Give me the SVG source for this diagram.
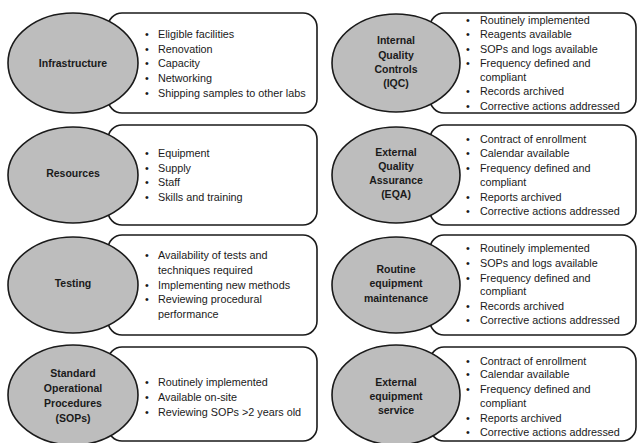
<svg xmlns="http://www.w3.org/2000/svg" width="639" height="443" viewBox="0 0 639 443">
<style>
.box{fill:#fff;stroke:#1a1a1a;stroke-width:1.6}
.ell{fill:#bdbdbd;stroke:#1a1a1a;stroke-width:1.6}
.lbl{font-family:"Liberation Sans",Arial,sans-serif;font-size:10.5px;font-weight:bold;fill:#1a1a1a;text-anchor:middle}
.it{font-family:"Liberation Sans",Arial,sans-serif;font-size:10.8px;fill:#1a1a1a}
.bl{font-family:"Liberation Sans",Arial,sans-serif;font-size:10.8px;fill:#1a1a1a;text-anchor:middle}
</style>
<rect width="639" height="443" fill="#fff"/>
<g id="connectors"></g>

<g id="infrastructure">
<rect class="box" x="108" y="13" width="209" height="100" rx="14"/>
<ellipse class="ell" cx="73" cy="63" rx="65" ry="50"/>
<text class="lbl" x="73" y="67">Infrastructure</text>
<text class="bl" x="147" y="38">•</text><text class="it" x="158" y="38">Eligible facilities</text>
<text class="bl" x="147" y="53">•</text><text class="it" x="158" y="53">Renovation</text>
<text class="bl" x="147" y="67">•</text><text class="it" x="158" y="67">Capacity</text>
<text class="bl" x="147" y="82">•</text><text class="it" x="158" y="82">Networking</text>
<text class="bl" x="147" y="97">•</text><text class="it" x="158" y="97">Shipping samples to other labs</text>
</g>

<g id="resources">
<rect class="box" x="108" y="125" width="209" height="100" rx="14"/>
<ellipse class="ell" cx="73" cy="175" rx="65" ry="48"/>
<text class="lbl" x="73" y="177">Resources</text>
<text class="bl" x="147" y="157">•</text><text class="it" x="158" y="157">Equipment</text>
<text class="bl" x="147" y="172">•</text><text class="it" x="158" y="172">Supply</text>
<text class="bl" x="147" y="186">•</text><text class="it" x="158" y="186">Staff</text>
<text class="bl" x="147" y="201">•</text><text class="it" x="158" y="201">Skills and training</text>
</g>

<g id="testing">
<rect class="box" x="108" y="235" width="209" height="100" rx="14"/>
<ellipse class="ell" cx="73" cy="285" rx="65" ry="48"/>
<text class="lbl" x="73" y="287">Testing</text>
<text class="bl" x="147" y="259">•</text><text class="it" x="158" y="259">Availability of tests and</text>
<text class="it" x="158" y="274">techniques required</text>
<text class="bl" x="147" y="289">•</text><text class="it" x="158" y="289">Implementing new methods</text>
<text class="bl" x="147" y="303">•</text><text class="it" x="158" y="303">Reviewing procedural</text>
<text class="it" x="158" y="318">performance</text>
</g>

<g id="sops">
<rect class="box" x="108" y="347" width="209" height="94" rx="14"/>
<ellipse class="ell" cx="73" cy="395" rx="65" ry="50"/>
<text class="lbl" x="73" y="377">Standard</text>
<text class="lbl" x="73" y="392">Operational</text>
<text class="lbl" x="73" y="407">Procedures</text>
<text class="lbl" x="73" y="422">(SOPs)</text>
<text class="bl" x="147" y="386">•</text><text class="it" x="158" y="386">Routinely implemented</text>
<text class="bl" x="147" y="401">•</text><text class="it" x="158" y="401">Available on-site</text>
<text class="bl" x="147" y="416">•</text><text class="it" x="158" y="416">Reviewing SOPs &gt;2 years old</text>
</g>

<g id="iqc">
<rect class="box" x="430" y="13" width="206" height="100" rx="14"/>
<ellipse class="ell" cx="396" cy="63" rx="64" ry="49"/>
<text class="lbl" x="396" y="44">Internal</text>
<text class="lbl" x="396" y="59">Quality</text>
<text class="lbl" x="396" y="73">Controls</text>
<text class="lbl" x="396" y="87">(IQC)</text>
<text class="bl" x="468" y="24">•</text><text class="it" x="480" y="24">Routinely implemented</text>
<text class="bl" x="468" y="38">•</text><text class="it" x="480" y="38">Reagents available</text>
<text class="bl" x="468" y="53">•</text><text class="it" x="480" y="53">SOPs and logs available</text>
<text class="bl" x="468" y="67">•</text><text class="it" x="480" y="67">Frequency defined and</text>
<text class="it" x="480" y="81">compliant</text>
<text class="bl" x="468" y="95">•</text><text class="it" x="480" y="95">Records archived</text>
<text class="bl" x="468" y="110">•</text><text class="it" x="480" y="110">Corrective actions addressed</text>
</g>

<g id="eqa">
<rect class="box" x="430" y="125" width="206" height="100" rx="14"/>
<ellipse class="ell" cx="396" cy="175" rx="64" ry="48"/>
<text class="lbl" x="396" y="156">External</text>
<text class="lbl" x="396" y="170">Quality</text>
<text class="lbl" x="396" y="184">Assurance</text>
<text class="lbl" x="396" y="198">(EQA)</text>
<text class="bl" x="468" y="143">•</text><text class="it" x="480" y="143">Contract of enrollment</text>
<text class="bl" x="468" y="157">•</text><text class="it" x="480" y="157">Calendar available</text>
<text class="bl" x="468" y="172">•</text><text class="it" x="480" y="172">Frequency defined and</text>
<text class="it" x="480" y="186">compliant</text>
<text class="bl" x="468" y="201">•</text><text class="it" x="480" y="201">Reports archived</text>
<text class="bl" x="468" y="215">•</text><text class="it" x="480" y="215">Corrective actions addressed</text>
</g>

<g id="maintenance">
<rect class="box" x="430" y="235" width="206" height="100" rx="14"/>
<ellipse class="ell" cx="396" cy="285" rx="64" ry="48"/>
<text class="lbl" x="396" y="273">Routine</text>
<text class="lbl" x="396" y="287">equipment</text>
<text class="lbl" x="396" y="302">maintenance</text>
<text class="bl" x="468" y="252">•</text><text class="it" x="480" y="252">Routinely implemented</text>
<text class="bl" x="468" y="267">•</text><text class="it" x="480" y="267">SOPs and logs available</text>
<text class="bl" x="468" y="282">•</text><text class="it" x="480" y="282">Frequency defined and</text>
<text class="it" x="480" y="295">compliant</text>
<text class="bl" x="468" y="310">•</text><text class="it" x="480" y="310">Records archived</text>
<text class="bl" x="468" y="324">•</text><text class="it" x="480" y="324">Corrective actions addressed</text>
</g>

<g id="service">
<rect class="box" x="430" y="347" width="206" height="94" rx="14"/>
<ellipse class="ell" cx="396" cy="395" rx="64" ry="50"/>
<text class="lbl" x="396" y="386">External</text>
<text class="lbl" x="396" y="400">equipment</text>
<text class="lbl" x="396" y="414">service</text>
<text class="bl" x="468" y="365">•</text><text class="it" x="480" y="365">Contract of enrollment</text>
<text class="bl" x="468" y="378">•</text><text class="it" x="480" y="378">Calendar available</text>
<text class="bl" x="468" y="393">•</text><text class="it" x="480" y="393">Frequency defined and</text>
<text class="it" x="480" y="407">compliant</text>
<text class="bl" x="468" y="422">•</text><text class="it" x="480" y="422">Reports archived</text>
<text class="bl" x="468" y="436">•</text><text class="it" x="480" y="436">Corrective actions addressed</text>
</g>
</svg>
